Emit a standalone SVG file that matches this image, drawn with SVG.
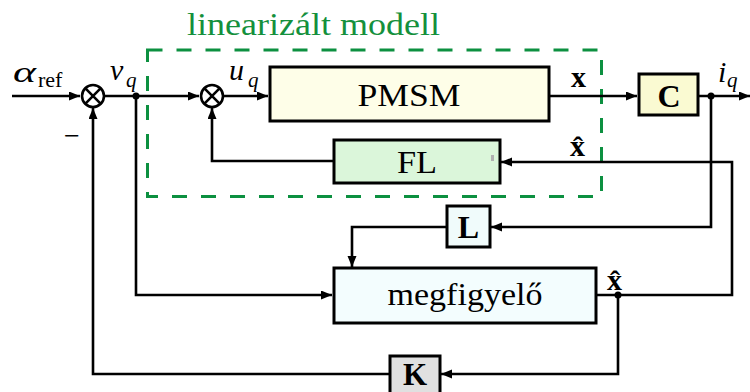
<svg xmlns="http://www.w3.org/2000/svg" width="750" height="392" viewBox="0 0 750 392">
<defs>
<style>
.box{stroke:#000;stroke-width:3}
.ln{fill:none;stroke:#000;stroke-width:2.6}
text{font-family:'Liberation Serif','DejaVu Serif',serif;fill:#000}
.b{font-weight:bold}
.i{font-style:italic}
.sum{fill:#fff;stroke:#000;stroke-width:2.6}
</style>
<marker id="ar" markerUnits="userSpaceOnUse" markerWidth="12" markerHeight="10" refX="11" refY="4.5" orient="auto">
<path d="M0,0 L11,4.5 L0,9 z" fill="#000"/>
</marker>
</defs>
<rect width="750" height="392" fill="#fff"/>

<g id="linmodel">
<rect x="147.5" y="50" width="454" height="146.5" fill="none" stroke="#0c9040" stroke-width="3" stroke-dasharray="15 14"/>
<text x="187" y="35" font-family="Liberation Serif, DejaVu Serif, serif" font-size="31" style="fill:#14903c" textLength="253" lengthAdjust="spacingAndGlyphs">linearizált modell</text>
</g>

<g id="connectors">
<path class="ln" d="M12,96 H80" marker-end="url(#ar)"/>
<path class="ln" d="M105,96 H199" marker-end="url(#ar)"/>
<path class="ln" d="M223,96 H268" marker-end="url(#ar)"/>
<path class="ln" d="M549,96 H637" marker-end="url(#ar)"/>
<path class="ln" d="M698,96 H750" marker-end="url(#ar)"/>
<path class="ln" d="M711,96 V227 H491" marker-end="url(#ar)"/>
<path class="ln" d="M447,227 H352 V267" marker-end="url(#ar)"/>
<path class="ln" d="M136,96 V295 H332" marker-end="url(#ar)"/>
<path class="ln" d="M596,295 H732 V162 H501" marker-end="url(#ar)"/>
<path class="ln" d="M618,295 V374 H441" marker-end="url(#ar)"/>
<path class="ln" d="M390,374 H93 V108" marker-end="url(#ar)"/>
<path class="ln" d="M333,161 H212 V108" marker-end="url(#ar)"/>
<circle cx="136" cy="96" r="3.5" fill="#000"/>
<circle cx="711" cy="96" r="3.5" fill="#000"/>
<circle cx="618" cy="295" r="3.5" fill="#000"/>
</g>

<g id="sum1">
<circle class="sum" cx="93" cy="96" r="11"/>
<path class="ln" d="M85.2,88.2 L100.8,103.8 M100.8,88.2 L85.2,103.8"/>
</g>
<g id="sum2">
<circle class="sum" cx="212" cy="96" r="11"/>
<path class="ln" d="M204.2,88.2 L219.8,103.8 M219.8,88.2 L204.2,103.8"/>
</g>

<g id="labels" font-family="Liberation Serif, DejaVu Serif, serif">
<text class="i" x="13" y="82" font-size="30" textLength="23" lengthAdjust="spacingAndGlyphs">α</text>
<text x="38" y="87" font-size="22">ref</text>
<text x="64" y="145" font-size="28">−</text>
<text class="i" x="110" y="80" font-size="30">v</text>
<text class="i" x="126" y="87" font-size="21">q</text>
<text class="i" x="229" y="80" font-size="30">u</text>
<text class="i" x="248" y="87" font-size="21">q</text>
<text class="b" x="571" y="87" font-size="30">x</text>
<text class="i" x="718" y="82" font-size="30">i</text>
<text class="i" x="727" y="87" font-size="21">q</text>
<text class="b" x="570" y="156" font-size="30">x̂</text>
<text class="b" x="607" y="290" font-size="30">x̂</text>
</g>

<g id="pmsm">
<rect class="box" x="270" y="67" width="279" height="54" fill="#fefee8"/>
<text x="409" y="106" font-family="Liberation Serif, DejaVu Serif, serif" font-size="31" text-anchor="middle" textLength="103" lengthAdjust="spacingAndGlyphs">PMSM</text>
</g>

<g id="C">
<rect class="box" x="639" y="74" width="59" height="41" fill="#fafad2"/>
<text class="b" x="669" y="107" font-family="Liberation Serif, DejaVu Serif, serif" font-size="32" text-anchor="middle">C</text>
</g>

<g id="FL">
<rect class="box" x="334" y="140" width="166" height="43" fill="#dbf6da"/>
<rect x="491" y="155" width="3" height="6" fill="#b0b0b0"/>
<text x="417" y="173" font-family="Liberation Serif, DejaVu Serif, serif" font-size="32" text-anchor="middle" textLength="40" lengthAdjust="spacingAndGlyphs">FL</text>
</g>

<g id="L">
<rect class="box" x="447" y="206" width="43" height="41" fill="#f0fbfb"/>
<text class="b" x="468.5" y="238" font-family="Liberation Serif, DejaVu Serif, serif" font-size="32" text-anchor="middle">L</text>
</g>

<g id="megfigyelo">
<rect class="box" x="334" y="268" width="262" height="55" fill="#f3fdfe"/>
<text x="465" y="305" font-family="Liberation Serif, DejaVu Serif, serif" font-size="31" text-anchor="middle" textLength="155" lengthAdjust="spacingAndGlyphs">megfigyelő</text>
</g>

<g id="K">
<rect class="box" x="390" y="356" width="50" height="38" fill="#e0e0e0"/>
<text class="b" x="415" y="385" font-family="Liberation Serif, DejaVu Serif, serif" font-size="31" text-anchor="middle">K</text>
</g>
</svg>
